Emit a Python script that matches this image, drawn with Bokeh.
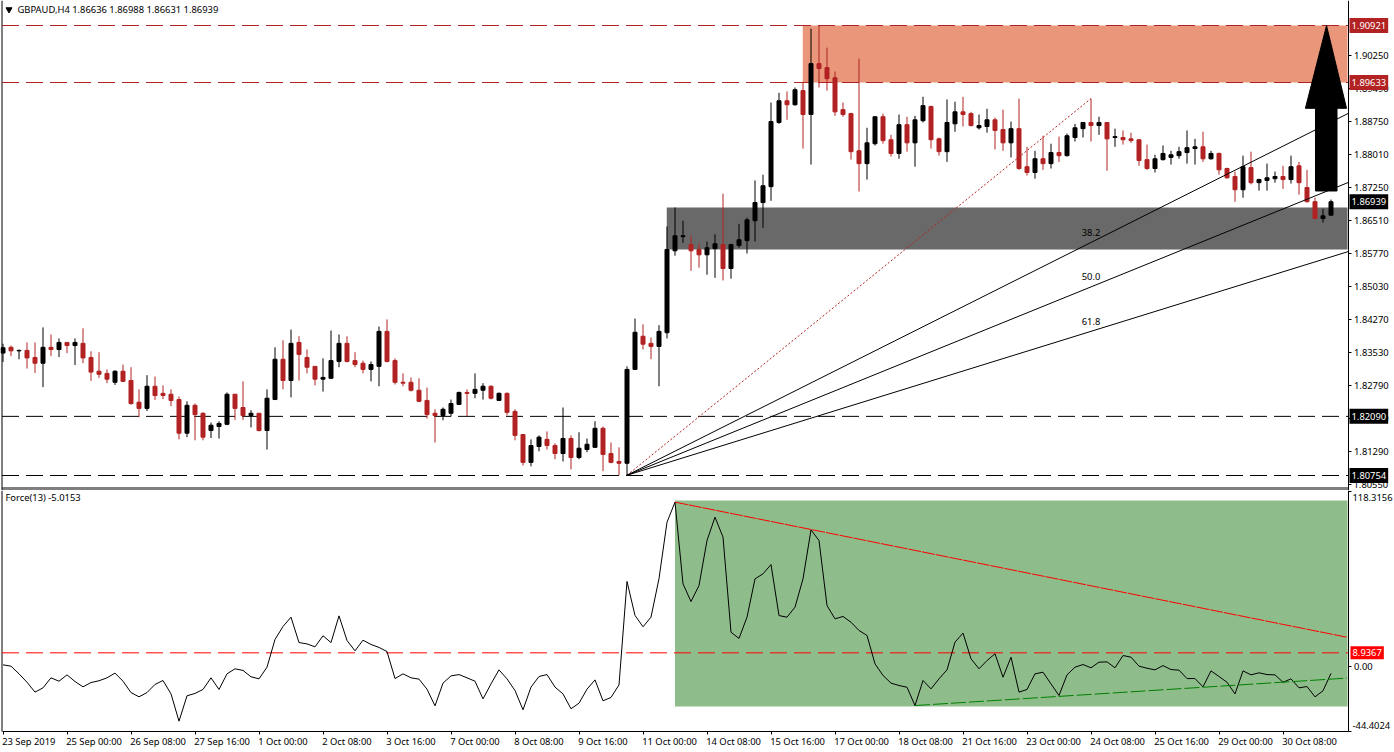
from bokeh.plotting import figure
from bokeh.layouts import column
from bokeh.models import Range1d, FixedTicker, NumeralTickFormatter, Label
from bokeh.embed import file_html
from bokeh.resources import INLINE

symbol_title = "GBPAUD,H4  1.86636 1.86988 1.86631 1.86939"
force_title = "Force(13) -5.0153"

highs = [
 1.8373,1.8369,1.8360,1.8376,1.8376,1.8410,1.8394,1.8385,1.8376,1.8385,
 1.8408,1.8356,1.8354,1.8315,1.8313,1.8326,1.8320,1.8270,1.8302,1.8299,
 1.8279,1.8270,1.8254,1.8243,1.8238,1.8218,1.8195,1.8198,1.8263,1.8259,
 1.8288,1.8223,1.8216,1.8270,1.8365,1.8381,1.8405,1.8390,1.8360,1.8322,
 1.8340,1.8403,1.8394,1.8390,1.8354,1.8335,1.8333,1.8412,1.8428,1.8340,
 1.8306,1.8297,1.8295,1.8274,1.8225,1.8229,1.8247,1.8265,1.8270,1.8306,
 1.8284,1.8279,1.8263,1.8263,1.8225,1.8168,1.8157,1.8166,1.8175,1.8148,
 1.8229,1.8166,1.8173,1.8159,1.8198,1.8186,1.8150,1.8139,1.8322,1.8430,
 1.8417,1.8387,1.8415,1.8638,1.8681,1.8651,1.8617,1.8599,1.8604,1.8620,
 1.8712,1.8599,1.8644,1.8658,1.8742,1.8755,1.8918,1.8940,1.8943,1.8952,
 1.8963,1.9085,1.9092,1.9042,1.8988,1.8918,1.8895,1.9017,1.8861,1.8886,
 1.8893,1.8845,1.8891,1.8886,1.8888,1.8931,1.8911,1.8839,1.8925,1.8920,
 1.8931,1.8897,1.8891,1.8904,1.8884,1.8902,1.8875,1.8927,1.8818,1.8809,
 1.8843,1.8825,1.8841,1.8848,1.8870,1.8873,1.8927,1.8886,1.8873,1.8859,
 1.8855,1.8850,1.8834,1.8823,1.8800,1.8821,1.8809,1.8818,1.8855,1.8836,
 1.8852,1.8809,1.8805,1.8771,1.8762,1.8798,1.8807,1.8746,1.8780,1.8762,
 1.8775,1.8798,1.8784,1.8766,1.8703,1.8678,1.86988]
body_tops = [
 1.8364,1.8365,1.8358,1.8358,1.8342,1.8365,1.8365,1.8376,1.8376,1.8376,
 1.8374,1.8342,1.8311,1.8306,1.8311,1.8311,1.8290,1.8241,1.8277,1.8277,
 1.8261,1.8259,1.8247,1.8234,1.8234,1.8216,1.8189,1.8193,1.8259,1.8259,
 1.8229,1.8216,1.8216,1.8250,1.8338,1.8338,1.8374,1.8376,1.8342,1.8322,
 1.8297,1.8335,1.8374,1.8374,1.8335,1.8329,1.8326,1.8401,1.8401,1.8335,
 1.8286,1.8286,1.8268,1.8245,1.8216,1.8225,1.8238,1.8263,1.8263,1.8270,
 1.8277,1.8277,1.8261,1.8261,1.8220,1.8168,1.8143,1.8162,1.8157,1.8143,
 1.8159,1.8159,1.8137,1.8146,1.8182,1.8182,1.8125,1.8107,1.8315,1.8399,
 1.8390,1.8374,1.8401,1.8586,1.8617,1.8617,1.8597,1.8586,1.8590,1.8599,
 1.8597,1.8597,1.8608,1.8653,1.8692,1.8730,1.8875,1.8922,1.8922,1.8947,
 1.8945,1.9006,1.9006,1.8997,1.8974,1.8902,1.8893,1.8809,1.8827,1.8886,
 1.8886,1.8834,1.8868,1.8868,1.8879,1.8911,1.8909,1.8836,1.8873,1.8897,
 1.8897,1.8893,1.8866,1.8879,1.8879,1.8857,1.8859,1.8859,1.8773,1.8791,
 1.8791,1.8805,1.8805,1.8843,1.8861,1.8873,1.8873,1.8873,1.8873,1.8841,
 1.8839,1.8836,1.8834,1.8789,1.8791,1.8803,1.8800,1.8807,1.8816,1.8818,
 1.8818,1.8803,1.8803,1.8769,1.8751,1.8773,1.8771,1.8744,1.8748,1.8751,
 1.8751,1.8773,1.8775,1.8726,1.8694,1.8662,1.86939]
body_bottoms = [
 1.8352,1.8357,1.8357,1.8341,1.8329,1.8329,1.8360,1.8360,1.8369,1.8369,
 1.8341,1.8309,1.8304,1.8293,1.8286,1.8288,1.8238,1.8227,1.8227,1.8256,
 1.8256,1.8245,1.8171,1.8171,1.8213,1.8162,1.8177,1.8186,1.8191,1.8227,
 1.8211,1.8211,1.8177,1.8177,1.8247,1.8290,1.8290,1.8349,1.8320,1.8293,
 1.8293,1.8295,1.8333,1.8333,1.8326,1.8315,1.8315,1.8322,1.8333,1.8286,
 1.8284,1.8268,1.8243,1.8213,1.8211,1.8211,1.8216,1.8236,1.8261,1.8261,
 1.8268,1.8250,1.8245,1.8218,1.8166,1.8105,1.8105,1.8141,1.8143,1.8125,
 1.8125,1.8116,1.8116,1.8134,1.8139,1.8123,1.8105,1.8103,1.8103,1.8315,
 1.8372,1.8367,1.8367,1.8398,1.8583,1.8615,1.8583,1.8574,1.8574,1.8588,
 1.8543,1.8543,1.8595,1.8606,1.8651,1.8692,1.8728,1.8873,1.8913,1.8913,
 1.8891,1.8891,1.8995,1.8972,1.8897,1.8891,1.8807,1.8780,1.8780,1.8825,
 1.8832,1.8803,1.8803,1.8827,1.8827,1.8877,1.8834,1.8807,1.8807,1.8870,
 1.8891,1.8866,1.8861,1.8864,1.8855,1.8827,1.8827,1.8769,1.8760,1.8760,
 1.8780,1.8780,1.8798,1.8798,1.8839,1.8859,1.8866,1.8866,1.8836,1.8839,
 1.8834,1.8832,1.8787,1.8769,1.8769,1.8789,1.8794,1.8798,1.8805,1.8814,
 1.8791,1.8791,1.8766,1.8748,1.8721,1.8721,1.8737,1.8737,1.8742,1.8746,
 1.8744,1.8744,1.8737,1.8694,1.8656,1.8656,1.86636]
lows = [
 1.8332,1.8345,1.8338,1.8317,1.8307,1.8275,1.8345,1.8343,1.8352,1.8325,
 1.8329,1.8289,1.8296,1.8284,1.8280,1.8288,1.8235,1.8207,1.8221,1.8246,
 1.8248,1.8232,1.8157,1.8162,1.8155,1.8155,1.8160,1.8159,1.8189,1.8201,
 1.8201,1.8184,1.8175,1.8134,1.8247,1.8270,1.8252,1.8290,1.8306,1.8279,
 1.8265,1.8295,1.8320,1.8331,1.8320,1.8306,1.8288,1.8277,1.8331,1.8281,
 1.8277,1.8265,1.8241,1.8204,1.8150,1.8200,1.8209,1.8236,1.8209,1.8250,
 1.8247,1.8247,1.8245,1.8211,1.8155,1.8098,1.8096,1.8130,1.8134,1.8112,
 1.8107,1.8089,1.8112,1.8128,1.8139,1.8085,1.8103,1.8076,1.8076,1.8315,
 1.8360,1.8338,1.8277,1.8385,1.8572,1.8601,1.8538,1.8545,1.8529,1.8522,
 1.8516,1.8520,1.8590,1.8577,1.8604,1.8635,1.8696,1.8870,1.8879,1.8911,
 1.8814,1.8778,1.8952,1.8945,1.8888,1.8886,1.8789,1.8717,1.8744,1.8821,
 1.8825,1.8796,1.8791,1.8807,1.8773,1.8873,1.8814,1.8798,1.8784,1.8852,
 1.8864,1.8864,1.8857,1.8850,1.8812,1.8809,1.8794,1.8766,1.8753,1.8746,
 1.8766,1.8769,1.8784,1.8796,1.8830,1.8839,1.8830,1.8845,1.8764,1.8818,
 1.8823,1.8827,1.8775,1.8766,1.8760,1.8787,1.8778,1.8791,1.8780,1.8778,
 1.8784,1.8789,1.8755,1.8746,1.8694,1.8703,1.8733,1.8719,1.8719,1.8737,
 1.8723,1.8735,1.8710,1.8692,1.8656,1.8647,1.86631]
directions = ("BRBRRBRBRB" "RRRRBRRRBR" "RRRBRRBBBR" "RBRBBRBRRR" "BBBRRRBBRR"
              "RRRRRBBBRB" "BRBRRRBBRR" "BRBBBRRRBB" "RRBBBBRRBB" "RBBBBBBBRB"
              "RBRRRRRRBB" "RRBRBBRRBB" "RRBBRRBRRB" "RBRBBBRBRB" "RRRRBBBBBB"
              "RBRRRBRBBB" "RBRRRBB")

force = [
 0.8,-0.1,-5.3,-11.0,-17.7,-14.8,-8.0,-10.3,-6.0,-10.5,
 -14.1,-11.2,-10.0,-8.0,-4.8,-10.3,-18.0,-20.9,-18.0,-12.5,
 -9.8,-18.9,-37.4,-20.2,-18.6,-15.9,-8.0,-15.9,-5.3,-1.9,
 -3.0,-7.3,-8.7,-0.8,18.0,26.8,33.1,15.9,15.0,13.0,
 20.5,15.9,34.0,17.3,10.3,17.5,14.6,12.6,9.8,-8.5,
 -5.3,-8.0,-8.9,-15.7,-27.0,-11.6,-6.7,-5.8,-8.0,-10.3,
 -22.3,-12.1,-2.6,-8.7,-16.6,-29.7,-14.3,-7.1,-5.8,-14.3,
 -18.9,-29.0,-25.2,-15.7,-9.4,-23.6,-21.3,-12.8,57.3,34.3,
 26.6,33.1,59.3,97.5,111.1,55.7,43.7,54.6,85.1,100.9,
 87.4,22.9,18.7,33.1,59.1,62.5,68.8,34.2,33.1,39.9,
 59.1,92.3,85.1,41.0,32.0,33.6,29.7,24.1,20.7,1.5,
 -6.4,-11.6,-13.2,-14.4,-26.8,-9.8,-15.5,-8.7,-2.6,16.2,
 22.3,4.9,-1.9,3.7,8.3,-7.6,6.0,-17.7,-15.9,-5.3,
 -4.2,-12.1,-20.0,-6.0,-0.8,1.0,-1.2,2.6,2.8,-1.2,
 7.1,6.0,-0.1,-1.5,-2.6,0.3,-2.4,-2.8,-8.5,-8.5,
 -14.1,-3.3,-7.1,-11.0,-18.9,-3.3,-6.0,-4.6,-5.8,-6.0,
 -11.0,-8.7,-14.8,-13.9,-20.9,-16.8,-5.0]

price_ticks = [1.9025,1.8949,1.8875,1.8801,1.8725,1.8651,1.8577,1.8503,1.8427,1.8353,1.8279,1.8205,1.8129,1.8055]
lowest_tick = 1.8055
date_ticks = list(range(0, 161, 8))
date_labels = ["23 Sep 2019","25 Sep 00:00","26 Sep 08:00","27 Sep 16:00","1 Oct 00:00","2 Oct 08:00",
               "3 Oct 16:00","7 Oct 00:00","8 Oct 08:00","9 Oct 16:00","11 Oct 00:00","14 Oct 08:00",
               "15 Oct 16:00","17 Oct 00:00","18 Oct 08:00","21 Oct 16:00","23 Oct 00:00","24 Oct 08:00",
               "25 Oct 16:00","29 Oct 00:00","30 Oct 08:00"]
resistance_levels = [1.90921, 1.89633]
support_levels = [1.82090, 1.80754]
last_price = 1.86939
force_level = 8.9367
force_max, force_min = 118.3156, -44.4024
fan_ratios = [0.382, 0.5, 0.618]
fan_texts = ["38.2", "50.0", "61.8"]
fan_start_bar, fan_end_bar = 78, 136
fan_start_price, fan_end_price = 1.8076, 1.8927
zone_sell = (100, 1.89633, 1.90921)
zone_buy = (83, 1.8586, 1.86809)
zone_force = (84, -27.4, 112.2)
force_down = ((84, 111.1), (168, 19.5))
force_up = ((114, -26.8), (168, -8.2))
arrow_bars = [164.06, 164.06, 162.8, 165.44, 167.94, 166.75, 166.75]
arrow_prices = [1.87182, 1.8905, 1.8905, 1.90921, 1.8905, 1.8905, 1.87182]

FONT = "Noto Sans"
FS = "9.4px"
RED = "#B22222"
W, H_TOP, H_BOT = 1394, 490, 262
LEFT_PX, RIGHT_PX = 1.5, 1347.5


def bar_at(px):
    return (px - 2.5) / 8


xleft, xright = bar_at(LEFT_PX), bar_at(RIGHT_PX)
per_px = 1 / 4426


def price_at(py):
    return 1.90921 - (py - 25) * per_px


bars = list(range(len(highs)))
shared_x = Range1d(bar_at(0), bar_at(W))

# upper panel: frame fills the figure, the price axis is fixed at the right edge of the bars
p = figure(width=W, height=H_TOP, output_backend="svg", toolbar_location=None,
           x_range=shared_x, y_range=Range1d(price_at(H_TOP), price_at(0)),
           x_axis_location=None, y_axis_location="right",
           min_border_left=0, min_border_right=0, min_border_top=0, min_border_bottom=0)
p.grid.visible = False
p.outline_line_color = None
p.background_fill_color = "white"
p.border_fill_color = "white"
ax = p.yaxis[0]
ax.fixed_location = xright
ax.ticker = FixedTicker(ticks=price_ticks)
ax.formatter = NumeralTickFormatter(format="0.00000")
ax.major_label_overrides = {lowest_tick: " "}
ax.major_tick_out, ax.major_tick_in = 3, 0
ax.minor_tick_line_color = None
ax.axis_line_color = "black"
ax.major_tick_line_color = "black"
ax.major_label_standoff = 3
ax.major_label_text_font = FONT
ax.major_label_text_font_size = FS
ax.major_label_text_color = "black"
ax.bounds = (price_at(490), price_at(0))

p.line([xleft, xleft], [price_at(490), price_at(0)], line_color="black", line_width=1)
for py in (487.5, 489.5):
    p.line([xleft, xright], [price_at(py), price_at(py)], line_color="black", line_width=1)

p.quad(left=[zone_sell[0] - 0.03], right=[xright - 0.06], bottom=[zone_sell[1]], top=[zone_sell[2]],
       fill_color="#E9967A", line_color=None, level="underlay")
p.quad(left=[zone_buy[0] - 0.03], right=[xright - 0.06], bottom=[zone_buy[1]], top=[zone_buy[2]],
       fill_color="#696969", line_color=None, level="underlay")

for lv in resistance_levels:
    p.line([xleft, xright], [lv, lv], line_color=RED, line_width=1, line_dash="17 7")
for lv in support_levels:
    p.line([xleft, xright], [lv, lv], line_color="black", line_width=1, line_dash="17 7")

is_up = [d == "B" for d in directions]
colors = ["black" if u else RED for u in is_up]
p.segment(bars, highs, bars, lows, line_color=colors, line_width=1)
p.vbar(x=bars, width=0.5, top=body_tops, bottom=body_bottoms, fill_color=colors, line_color=colors, line_width=1)

p.line([fan_start_bar, fan_end_bar], [fan_start_price, fan_end_price], line_color=RED, line_width=1, line_dash="2 2")
span_price = fan_end_price - fan_start_price
span_bars = fan_end_bar - fan_start_bar
for r, t in zip(fan_ratios, fan_texts):
    lvl = fan_end_price - r * span_price
    slope = (lvl - fan_start_price) / span_bars
    p.line([fan_start_bar, xright], [fan_start_price, fan_start_price + slope * (xright - fan_start_bar)],
           line_color="black", line_width=1)
    p.add_layout(Label(x=fan_end_bar, y=lvl + 10 * per_px, text=t, text_font=FONT, text_font_size=FS,
                       text_color="black", text_align="center", text_baseline="middle"))

p.patch(arrow_bars, arrow_prices, fill_color="black", line_color="black", line_width=1)


def level_box(fig, y, text, bg, x_px=1349, pad=(2, 4), fg="white"):
    fig.add_layout(Label(x=bar_at(x_px), y=y, text=text, text_font=FONT, text_font_size=FS,
                         text_color=fg, text_align="left", text_baseline="middle",
                         background_fill_color=bg, padding=pad))


p.add_layout(Label(x=bar_at(1353), y=price_at(483.6), text=f"{lowest_tick:.5f}", text_font=FONT, text_font_size=FS,
                   text_color="black", text_align="left", text_baseline="middle"))
for lv in resistance_levels:
    level_box(p, lv, f"{lv:.5f}", RED)
for lv in support_levels:
    level_box(p, lv, f"{lv:.5f}", "black")
level_box(p, last_price, f"{last_price:.5f}", "black")

p.add_layout(Label(x=bar_at(17), y=price_at(9), text=symbol_title, text_font=FONT, text_font_size=FS,
                   text_color="black", text_align="left", text_baseline="middle"))
p.scatter([bar_at(8.5)], [price_at(9)], marker="inverted_triangle", size=6,
          fill_color="black", line_color="black")

# lower panel
px_unit = 1.475


def force_at(py):
    return force_max - (py - 491) / px_unit


q = figure(width=W, height=H_BOT, output_backend="svg", toolbar_location=None,
           x_range=shared_x, y_range=Range1d(force_at(H_TOP + H_BOT), force_at(H_TOP)),
           x_axis_location="below", y_axis_location="right",
           min_border_left=0, min_border_right=0, min_border_top=0, min_border_bottom=0)
q.grid.visible = False
q.outline_line_color = None
q.background_fill_color = "white"
q.border_fill_color = "white"
ay = q.yaxis[0]
ay.fixed_location = xright
ay.bounds = (force_min, force_at(490))
ay.ticker = FixedTicker(ticks=[force_max, 0, force_min])
ay.major_label_overrides = {force_max: " ", 0: "0.00", force_min: " "}
ay.major_tick_out, ay.major_tick_in = 3, 0
ay.minor_tick_line_color = None
ay.axis_line_color = "black"
ay.major_tick_line_color = "black"
ay.major_label_standoff = 3
ay.major_label_text_font = FONT
ay.major_label_text_font_size = FS
ay.major_label_text_color = "black"
axx = q.xaxis[0]
axx.fixed_location = force_min
axx.bounds = (xleft, xright)
axx.ticker = FixedTicker(ticks=date_ticks)
axx.major_label_overrides = {t: " " for t in date_ticks}
axx.major_tick_out, axx.major_tick_in = 3, 0
axx.minor_tick_line_color = None
axx.axis_line_color = "black"
axx.major_tick_line_color = "black"

q.line([xleft, xleft], [force_min, force_at(490)], line_color="black", line_width=1)

q.quad(left=[zone_force[0]], right=[xright - 0.06], bottom=[zone_force[1]], top=[zone_force[2]],
       fill_color="#8FBC8B", line_color=None, level="underlay")
q.line([xleft, xright], [force_level, force_level], line_color="#FF0000", line_width=1, line_dash="17 7")
q.line(bars, force, line_color="black", line_width=1)
q.line([force_down[0][0], force_down[1][0]], [force_down[0][1], force_down[1][1]],
       line_color="#FF0000", line_width=1, line_dash="13 1")
q.line([force_up[0][0], force_up[1][0]], [force_up[0][1], force_up[1][1]],
       line_color="#008000", line_width=1, line_dash="15 3")

level_box(q, force_level, f"{force_level:.4f}", "#FF0000", x_px=1350, pad=(2, 3))
q.add_layout(Label(x=bar_at(1352), y=force_at(497), text="118.3156", text_font=FONT, text_font_size=FS,
                   text_color="black", text_align="left", text_baseline="middle"))
q.add_layout(Label(x=bar_at(1352), y=force_at(725), text="-44.4024", text_font=FONT, text_font_size=FS,
                   text_color="black", text_align="left", text_baseline="middle"))
q.add_layout(Label(x=bar_at(5), y=force_at(497), text=force_title, text_font=FONT, text_font_size=FS,
                   text_color="black", text_align="left", text_baseline="middle"))
for t, lab in zip(date_ticks, date_labels):
    q.add_layout(Label(x=t - 0.1, y=force_at(741), text=lab, text_font=FONT, text_font_size=FS,
                       text_color="black", text_align="left", text_baseline="middle"))

layout = column(p, q, spacing=0)
open("out.html", "w").write(file_html(layout, INLINE))
